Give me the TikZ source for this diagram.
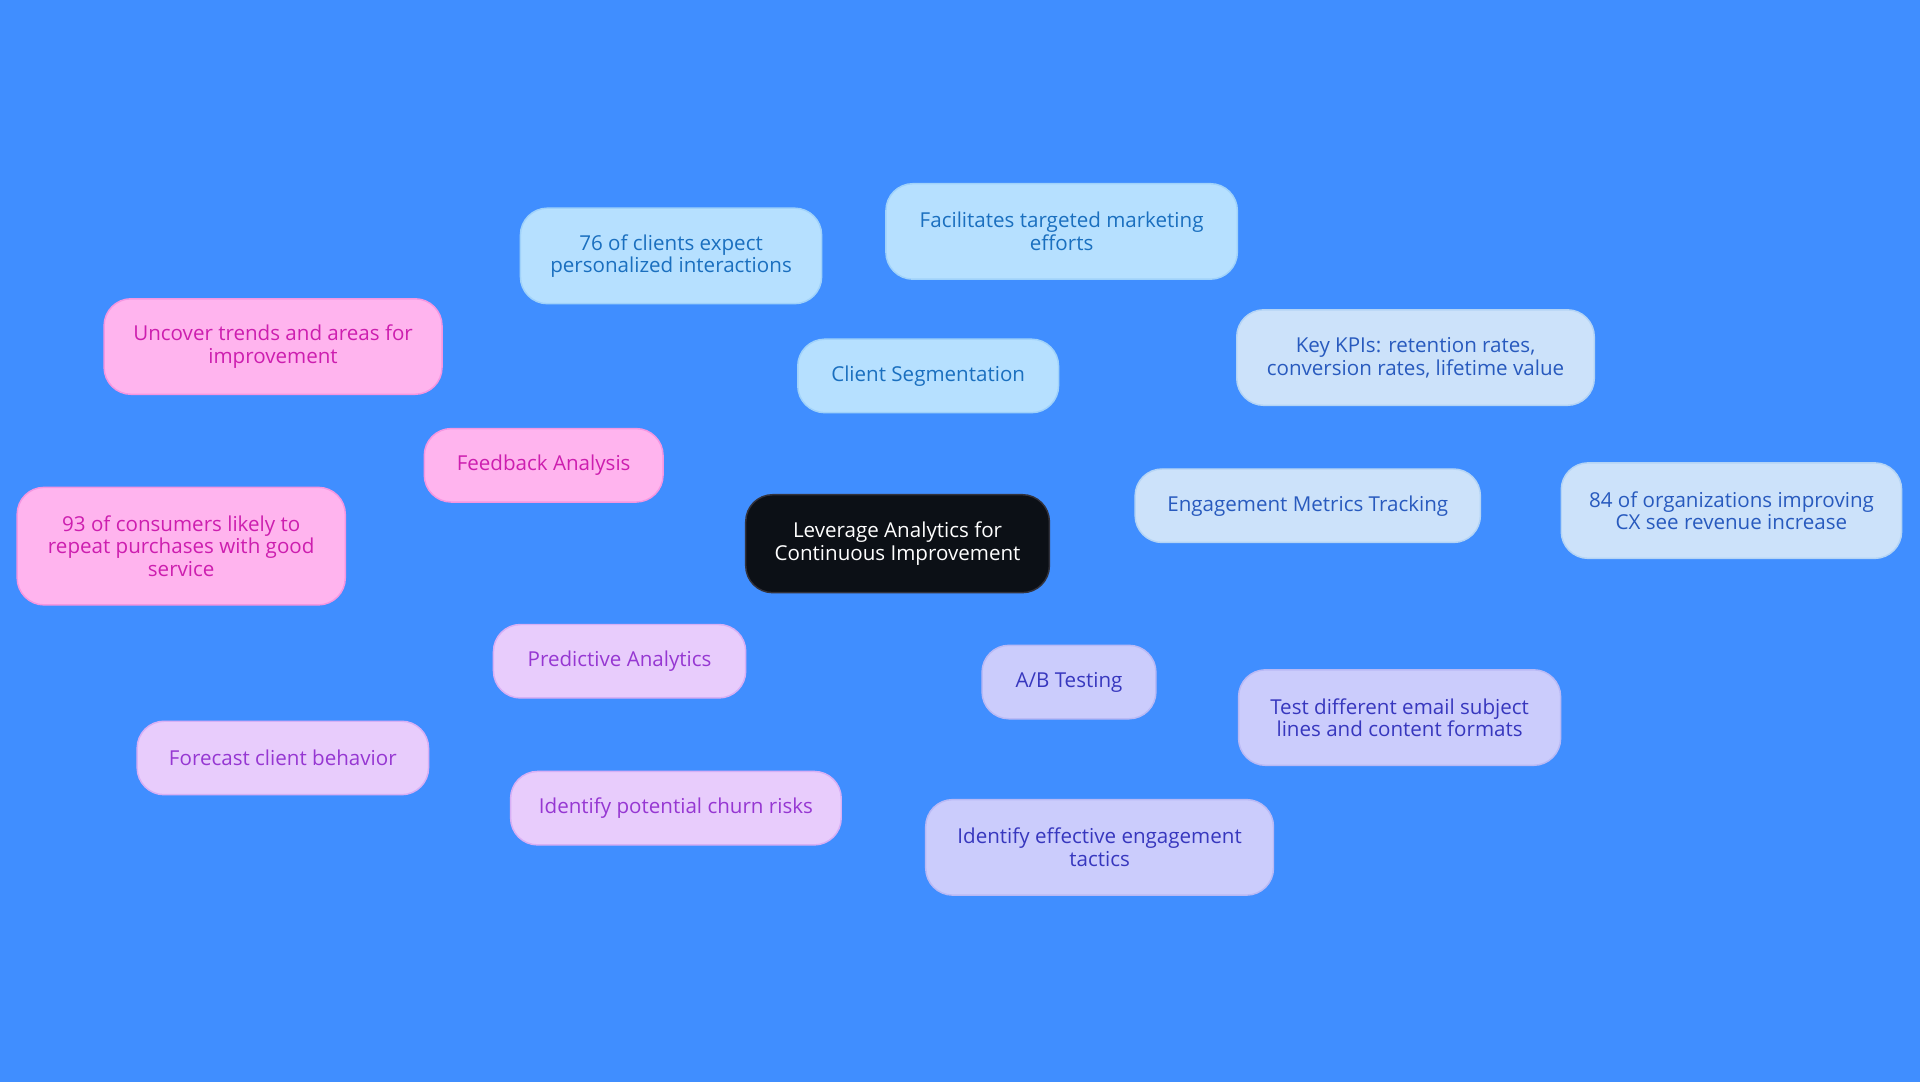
\documentclass[tikz,border=0pt]{standalone}
\usepackage{fontspec}
\setmainfont{Open Sans}
\usetikzlibrary{backgrounds}
\definecolor{bg}{RGB}{64,142,255}
\definecolor{csf}{RGB}{182,224,255}\definecolor{csd}{RGB}{160,210,250}\definecolor{cst}{RGB}{26,111,191}
\definecolor{emf}{RGB}{204,226,250}\definecolor{emd}{RGB}{180,212,245}\definecolor{emt}{RGB}{40,90,190}
\definecolor{abf}{RGB}{203,204,252}\definecolor{abd}{RGB}{185,185,245}\definecolor{abt}{RGB}{55,55,190}
\definecolor{paf}{RGB}{232,204,252}\definecolor{pad}{RGB}{215,175,245}\definecolor{pat}{RGB}{150,55,210}
\definecolor{faf}{RGB}{255,180,238}\definecolor{fad}{RGB}{245,150,225}\definecolor{fat}{RGB}{205,30,175}
\definecolor{cf}{RGB}{12,16,22}\definecolor{cd}{RGB}{50,50,60}
\begin{document}
\begin{tikzpicture}[x=0.5pt,y=-0.5pt,
 box/.style={rounded corners=11pt,draw,line width=0.6pt,align=center,inner sep=0pt,font=\fontsize{8.4}{9.2}\selectfont},
 cs/.style={box,fill=csf,draw=csd,text=cst},
 em/.style={box,fill=emf,draw=emd,text=emt},
 ab/.style={box,fill=abf,draw=abd,text=abt},
 pa/.style={box,fill=paf,draw=pad,text=pat},
 fa/.style={box,fill=faf,draw=fad,text=fat},
 ln/.style={line width=1.2pt}]
\fill[bg] (0,0) rectangle (1568,884);
\node[box,fill=cf,draw=cd,text=white,minimum width=124pt,minimum height=40pt] (c) at (733,444) {Leverage Analytics for\\Continuous Improvement};
\node[cs,minimum width=106.5pt,minimum height=30pt] (cs) at (758,307) {Client Segmentation};
\node[cs,minimum width=123pt,minimum height=39pt] (cs1) at (548,209) {76 of clients expect\\personalized interactions};
\node[cs,minimum width=143.5pt,minimum height=39pt] (cs2) at (867,189) {Facilitates targeted marketing\\efforts};
\node[em,minimum width=141pt,minimum height=30pt] (em) at (1068,413) {Engagement Metrics Tracking};
\node[em,minimum width=146pt,minimum height=39pt] (em1) at (1156,292) {Key KPIs: retention rates,\\conversion rates, lifetime value};
\node[em,minimum width=139pt,minimum height=39pt] (em2) at (1414,417) {84 of organizations improving\\CX see revenue increase};
\node[ab,minimum width=71pt,minimum height=30pt] (ab) at (873,557) {A/B Testing};
\node[ab,minimum width=131.5pt,minimum height=39pt] (ab1) at (1143,586) {Test different email subject\\lines and content formats};
\node[ab,minimum width=142pt,minimum height=39pt] (ab2) at (898,692) {Identify effective engagement\\tactics};
\node[pa,minimum width=103pt,minimum height=30pt] (pa) at (506,540) {Predictive Analytics};
\node[pa,minimum width=119pt,minimum height=30pt] (pa1) at (231,619) {Forecast client behavior};
\node[pa,minimum width=135pt,minimum height=30pt] (pa2) at (552,660) {Identify potential churn risks};
\node[fa,minimum width=97.5pt,minimum height=30pt] (fa) at (444,380) {Feedback Analysis};
\node[fa,minimum width=138pt,minimum height=39pt] (fa1) at (223,283) {Uncover trends and areas for\\improvement};
\node[fa,minimum width=134pt,minimum height=48pt] (fa2) at (148,446) {93 of consumers likely to\\repeat purchases with good\\service};
\begin{scope}[on background layer]
\fill[bg] (0,0) rectangle (1568,884);
\draw[ln,csd] (c) -- (cs) (cs) -- (cs1) (cs) -- (cs2);
\draw[ln,emd] (c) -- (em) (em) -- (em1) (em) -- (em2);
\draw[ln,abd] (c) -- (ab) (ab) -- (ab1) (ab) -- (ab2);
\draw[ln,pad] (c) -- (pa) (pa) -- (pa1) (pa) -- (pa2);
\draw[ln,fad] (c) -- (fa) (fa) -- (fa1) (fa) -- (fa2);
\end{scope}
\end{tikzpicture}
\end{document}
